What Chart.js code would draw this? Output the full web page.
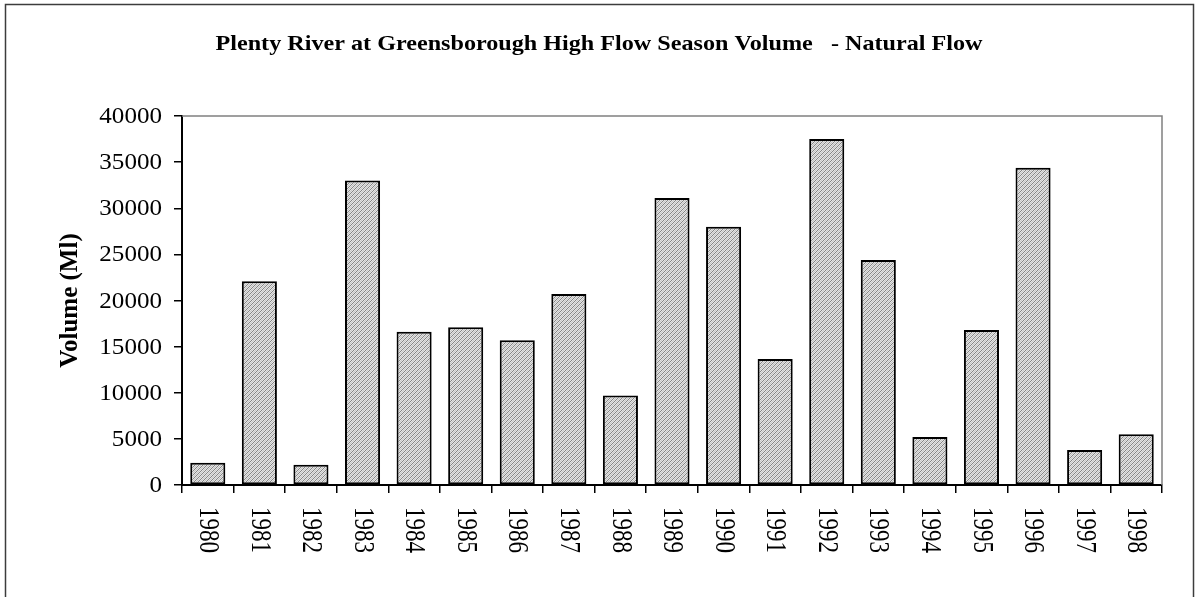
<!DOCTYPE html>
<html>
<head>
<meta charset="utf-8">
<script src="https://cdn.jsdelivr.net/npm/chart.js@4/dist/chart.umd.min.js"></script>
<style>
  html, body { margin: 0; padding: 0; background: #fff; }
  #wrap { width: 1198px; height: 597px; position: relative; }
</style>
</head>
<body>
<div id="wrap"><canvas id="c" width="1198" height="597"></canvas></div>
<script>
// Season volumes (Ml) by year
const years = ['1980','1981','1982','1983','1984','1985','1986','1987','1988','1989',
               '1990','1991','1992','1993','1994','1995','1996','1997','1998'];
const volumes = [2400, 22100, 2200, 33000, 16600, 17100, 15700, 20700, 9700, 31100,
                 28000, 13650, 37500, 24400, 5200, 16800, 34400, 3800, 5500];
const yTicks = [0, 5000, 10000, 15000, 20000, 25000, 30000, 35000, 40000];

const chartTitle = 'Plenty River at Greensborough High Flow Season Volume   - Natural Flow';
const yAxisTitle = 'Volume (Ml)';

const SERIF = '"Liberation Serif", "Times New Roman", serif';

// Diagonal hatch fill for the bars
function makeHatch() {
  const t = document.createElement('canvas');
  t.width = 4; t.height = 4;
  const g = t.getContext('2d');
  g.fillStyle = '#e4e4e4';
  g.fillRect(0, 0, 4, 4);
  g.fillStyle = '#858585';
  for (let i = 0; i < 4; i++) g.fillRect(i, 3 - i, 1, 1);
  g.fillStyle = '#c4c4c4';
  for (let i = 0; i < 4; i++) g.fillRect((i + 2) % 4, 3 - i, 1, 1);
  return t.getContext('2d').createPattern(t, 'repeat');
}

function stretchedText(ctx, text, x, y, sx, angle) {
  ctx.save();
  ctx.translate(x, y);
  ctx.scale(sx, 1);
  if (angle) ctx.rotate(angle);
  ctx.fillText(text, 0, 0);
  ctx.restore();
}

const decor = {
  id: 'decor',
  beforeDraw(chart) {
    const ctx = chart.ctx;
    ctx.save();
    ctx.fillStyle = '#fff';
    ctx.fillRect(0, 0, chart.width, chart.height);
    // outer frame
    ctx.strokeStyle = '#3c3c3c';
    ctx.lineWidth = 1.5;
    ctx.strokeRect(5.5, 4.5, 1188, 640);
    ctx.restore();
  },
  afterDraw(chart) {
    const ctx = chart.ctx;
    const a = chart.chartArea;
    const xs = chart.scales.x, ys = chart.scales.y;
    ctx.save();
    // plot area top/right edges
    ctx.strokeStyle = '#808080';
    ctx.lineWidth = 1.5;
    ctx.beginPath();
    ctx.moveTo(a.left, a.top);
    ctx.lineTo(a.right, a.top);
    ctx.lineTo(a.right, a.bottom);
    ctx.stroke();

    ctx.fillStyle = '#000';
    ctx.textBaseline = 'middle';

    // title
    ctx.font = 'bold 21px ' + SERIF;
    ctx.textAlign = 'center';
    stretchedText(ctx, chartTitle, 599, 45, 1.15, 0);

    // y tick labels
    ctx.font = '23px ' + SERIF;
    ctx.textAlign = 'right';
    ys.ticks.forEach(t => {
      stretchedText(ctx, String(t.value), a.left - 20, ys.getPixelForValue(t.value) + 1, 1.09, 0);
    });

    // x tick labels, rotated to read downward
    ctx.font = '23px ' + SERIF;
    ctx.textAlign = 'left';
    years.forEach((lab, i) => {
      stretchedText(ctx, lab, xs.getPixelForTick(i), a.bottom + 22, 1.3, Math.PI / 2);
    });

    // y axis title
    ctx.font = 'bold 25px ' + SERIF;
    ctx.textAlign = 'center';
    stretchedText(ctx, yAxisTitle, 70, (a.top + a.bottom) / 2, 1.05, -Math.PI / 2);
    ctx.restore();
  }
};

new Chart(document.getElementById('c'), {
  type: 'bar',
  data: {
    labels: years,
    datasets: [{
      data: volumes,
      backgroundColor: makeHatch(),
      borderColor: '#000',
      borderWidth: 2,
      borderSkipped: false,
      barPercentage: 0.68,
      categoryPercentage: 1.0
    }]
  },
  options: {
    responsive: false,
    animation: false,
    devicePixelRatio: 1,
    layout: { padding: { left: 0, top: 116, right: 36, bottom: 0 } },
    plugins: { legend: { display: false }, title: { display: false }, tooltip: { enabled: false } },
    scales: {
      x: {
        ticks: { display: false },
        grid: { offset: true, drawOnChartArea: false, drawTicks: true, tickLength: 8, color: '#000', lineWidth: 1.5 },
        border: { display: true, color: '#000', width: 2 },
        afterFit(s) { s.height = 112; }
      },
      y: {
        min: 0, max: 40000,
        afterBuildTicks(s) { s.ticks = yTicks.map(v => ({ value: v })); },
        ticks: { display: false },
        grid: { drawOnChartArea: false, drawTicks: true, tickLength: 8, color: '#000', lineWidth: 1.5 },
        border: { display: true, color: '#000', width: 2 },
        afterFit(s) { s.width = 182; }
      }
    }
  },
  plugins: [decor]
});
</script>
</body>
</html>
